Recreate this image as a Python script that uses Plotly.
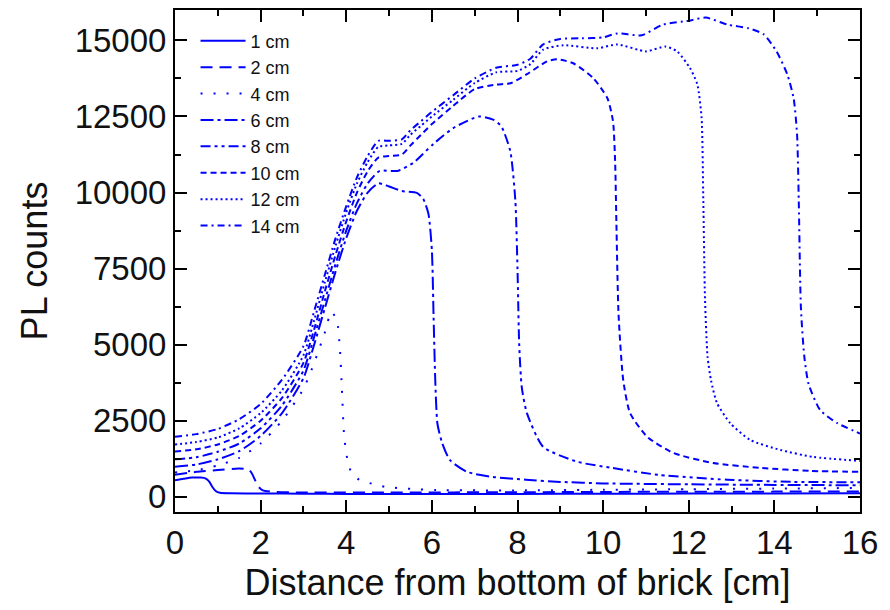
import plotly.graph_objects as go

# ---- data ----
labels = ["1 cm", "2 cm", "4 cm", "6 cm", "8 cm", "10 cm", "12 cm", "14 cm"]

x_1 = [0, 0.2, 0.4, 0.6, 0.72, 0.8, 0.87, 0.95, 1.05, 1.3, 2, 3, 4, 6, 8, 10, 12, 14, 16]
y_1 = [540, 590, 630, 630, 600, 500, 330, 190, 130, 115, 110, 100, 95, 90, 95, 100, 105, 110, 115]

x_2 = [0, 0.5, 1, 1.5, 1.72, 1.8, 1.88, 1.95, 2.05, 2.3, 3, 5, 8, 10, 12, 14, 16]
y_2 = [720, 820, 880, 930, 900, 760, 520, 330, 210, 160, 140, 140, 150, 160, 165, 170, 175]

x_4 = [0, 0.5, 1, 1.5, 2, 2.5, 3, 3.25, 3.5, 3.65, 3.78, 3.85, 3.9, 3.95, 4.03, 4.12, 4.3, 4.6, 4.9, 5.5, 6.1, 8, 10, 12, 14, 16]
y_4 = [800, 870, 1030, 1280, 1750, 2500, 3550, 4400, 5400, 6080, 5800, 4900, 3500, 2000, 1200, 800, 560, 430, 330, 260, 220, 210, 230, 250, 270, 290]

x_6 = [0, 0.5, 1, 1.5, 2, 2.5, 3, 3.25, 3.5, 3.75, 4, 4.25, 4.5, 4.75, 5.0, 5.3, 5.65, 5.8, 5.92, 6.0, 6.04, 6.08, 6.13, 6.24, 6.42, 6.82, 7.43, 8.2, 9, 10, 12, 14, 16]
y_6 = [990, 1060, 1230, 1500, 2000, 2750, 3900, 5000, 6200, 7400, 8500, 9400, 10000, 10300, 10200, 10050, 9990, 9790, 9300, 8100, 5900, 3800, 2400, 1770, 1210, 820, 650, 560, 490, 440, 410, 390, 380]

x_8 = [0, 0.5, 1, 1.5, 2, 2.5, 3, 3.25, 3.5, 3.75, 4, 4.25, 4.5, 4.78, 5.2, 5.56, 6.03, 6.5, 7.1, 7.43, 7.62, 7.83, 7.95, 8.0, 8.04, 8.1, 8.22, 8.6, 9.4, 10.2, 11.3, 12.9, 14.4, 16]
y_8 = [1230, 1300, 1480, 1750, 2250, 3000, 4150, 5250, 6450, 7650, 8750, 9650, 10300, 10710, 10710, 10970, 11590, 12120, 12500, 12400, 12180, 11370, 9730, 7500, 5000, 3600, 2750, 1640, 1150, 950, 720, 560, 490, 480]

x_10 = [0, 0.5, 1, 1.5, 2, 2.5, 3, 3.25, 3.5, 3.75, 4, 4.25, 4.5, 4.75, 5.0, 5.3, 5.5, 5.75, 6, 6.5, 7, 7.5, 7.83, 8.22, 8.69, 8.93, 9.3, 9.77, 10.1, 10.23, 10.28, 10.31, 10.36, 10.47, 10.63, 11.03, 11.64, 12.57, 13.67, 14.84, 16]
y_10 = [1490, 1560, 1720, 2000, 2500, 3250, 4400, 5500, 6750, 7950, 9050, 10000, 10700, 11150, 11200, 11250, 11550, 11900, 12250, 12850, 13400, 13550, 13590, 13890, 14310, 14380, 14250, 13760, 13100, 12350, 11040, 9000, 6000, 3830, 2750, 1970, 1440, 1110, 950, 850, 820]

x_12 = [0, 0.5, 1, 1.5, 2, 2.5, 3, 3.25, 3.5, 3.75, 4, 4.25, 4.5, 4.75, 5.0, 5.3, 5.5, 5.75, 6, 6.5, 7, 7.5, 8, 8.3, 8.6, 9.07, 9.86, 10.33, 11.0, 11.45, 11.73, 12.03, 12.2, 12.3, 12.34, 12.38, 12.44, 12.52, 12.66, 12.97, 13.43, 14.14, 14.9, 16]
y_12 = [1720, 1800, 1950, 2250, 2750, 3500, 4650, 5800, 7050, 8250, 9350, 10300, 11000, 11500, 11550, 11600, 11900, 12200, 12500, 13050, 13600, 13950, 14000, 14220, 14700, 14840, 14740, 14870, 14640, 14800, 14640, 14090, 13560, 12450, 9730, 6500, 4600, 3830, 3080, 2420, 1870, 1540, 1310, 1180]

x_14 = [0, 0.5, 1, 1.5, 2, 2.5, 3, 3.25, 3.5, 3.75, 4, 4.25, 4.5, 4.75, 5.0, 5.3, 5.5, 5.75, 6, 6.5, 7, 7.5, 8, 8.3, 8.6, 9.0, 9.5, 10.0, 10.33, 10.9, 11.4, 12.0, 12.4, 12.9, 13.4, 13.75, 14.05, 14.3, 14.45, 14.53, 14.57, 14.62, 14.7, 14.8, 15.07, 15.47, 16]
y_14 = [1970, 2060, 2230, 2550, 3050, 3850, 4950, 6100, 7300, 8500, 9550, 10500, 11200, 11700, 11700, 11750, 12050, 12350, 12650, 13200, 13750, 14100, 14200, 14400, 14870, 15050, 15070, 15100, 15230, 15170, 15520, 15650, 15750, 15520, 15400, 15200, 14640, 13890, 13100, 11900, 9700, 6200, 4600, 3700, 2850, 2420, 2080]

series_x = [x_1, x_2, x_4, x_6, x_8, x_10, x_12, x_14]
series_y = [y_1, y_2, y_4, y_6, y_8, y_10, y_12, y_14]

x_ticks = [0, 2, 4, 6, 8, 10, 12, 14, 16]
y_ticks = [0, 2500, 5000, 7500, 10000, 12500, 15000]

# ---- styles ----
dashes = [
    "solid",
    "12px,7px",
    "2px,11px",
    "13px,4px,3px,4px",
    "10px,4px,3px,4px,3px,4px",
    "6px,4px",
    "2px,3px",
    "7px,4px,2px,4px",
]

FONT = "Liberation Sans, Arial, sans-serif"

fig = go.Figure()
for lab, xs, ys, d in zip(labels, series_x, series_y, dashes):
    fig.add_trace(go.Scatter(
        x=xs, y=ys, mode="lines", name=lab,
        line=dict(color="#0000ff", width=2, dash=d, shape="spline", smoothing=0.6),
    ))

axis_common = dict(
    showline=True, linecolor="black", linewidth=2, mirror="ticks",
    ticks="inside", ticklen=12, tickwidth=2, tickcolor="black",
    showgrid=False, zeroline=False,
    tickfont=dict(family=FONT, size=33, color="#111111"),
    title_font=dict(family=FONT, size=36, color="#111111"),
)

fig.update_xaxes(
    range=[0, 16], tickvals=x_ticks, ticktext=[str(v) for v in x_ticks],
    minor=dict(dtick=1, ticks="inside", ticklen=6, tickwidth=2, tickcolor="black", showgrid=False),
    title_text="Distance from bottom of brick [cm]", title_standoff=10,
    **axis_common,
)
fig.update_yaxes(
    range=[-500, 16000], tickvals=y_ticks, ticktext=[str(v) for v in y_ticks],
    minor=dict(dtick=1250, tick0=0, ticks="inside", ticklen=6, tickwidth=2, tickcolor="black", showgrid=False),
    title_text="PL counts", title_standoff=16,
    **axis_common,
)

fig.update_layout(
    width=890, height=610,
    margin=dict(l=175, r=30, t=8, b=98),
    plot_bgcolor="white", paper_bgcolor="white",
    showlegend=True,
    legend=dict(
        x=0.03, y=0.975, xanchor="left", yanchor="top",
        bgcolor="rgba(0,0,0,0)", borderwidth=0,
        font=dict(family=FONT, size=18, color="#111111"),
        tracegroupgap=0, itemwidth=45,
    ),
)

fig.write_html("out.html")
